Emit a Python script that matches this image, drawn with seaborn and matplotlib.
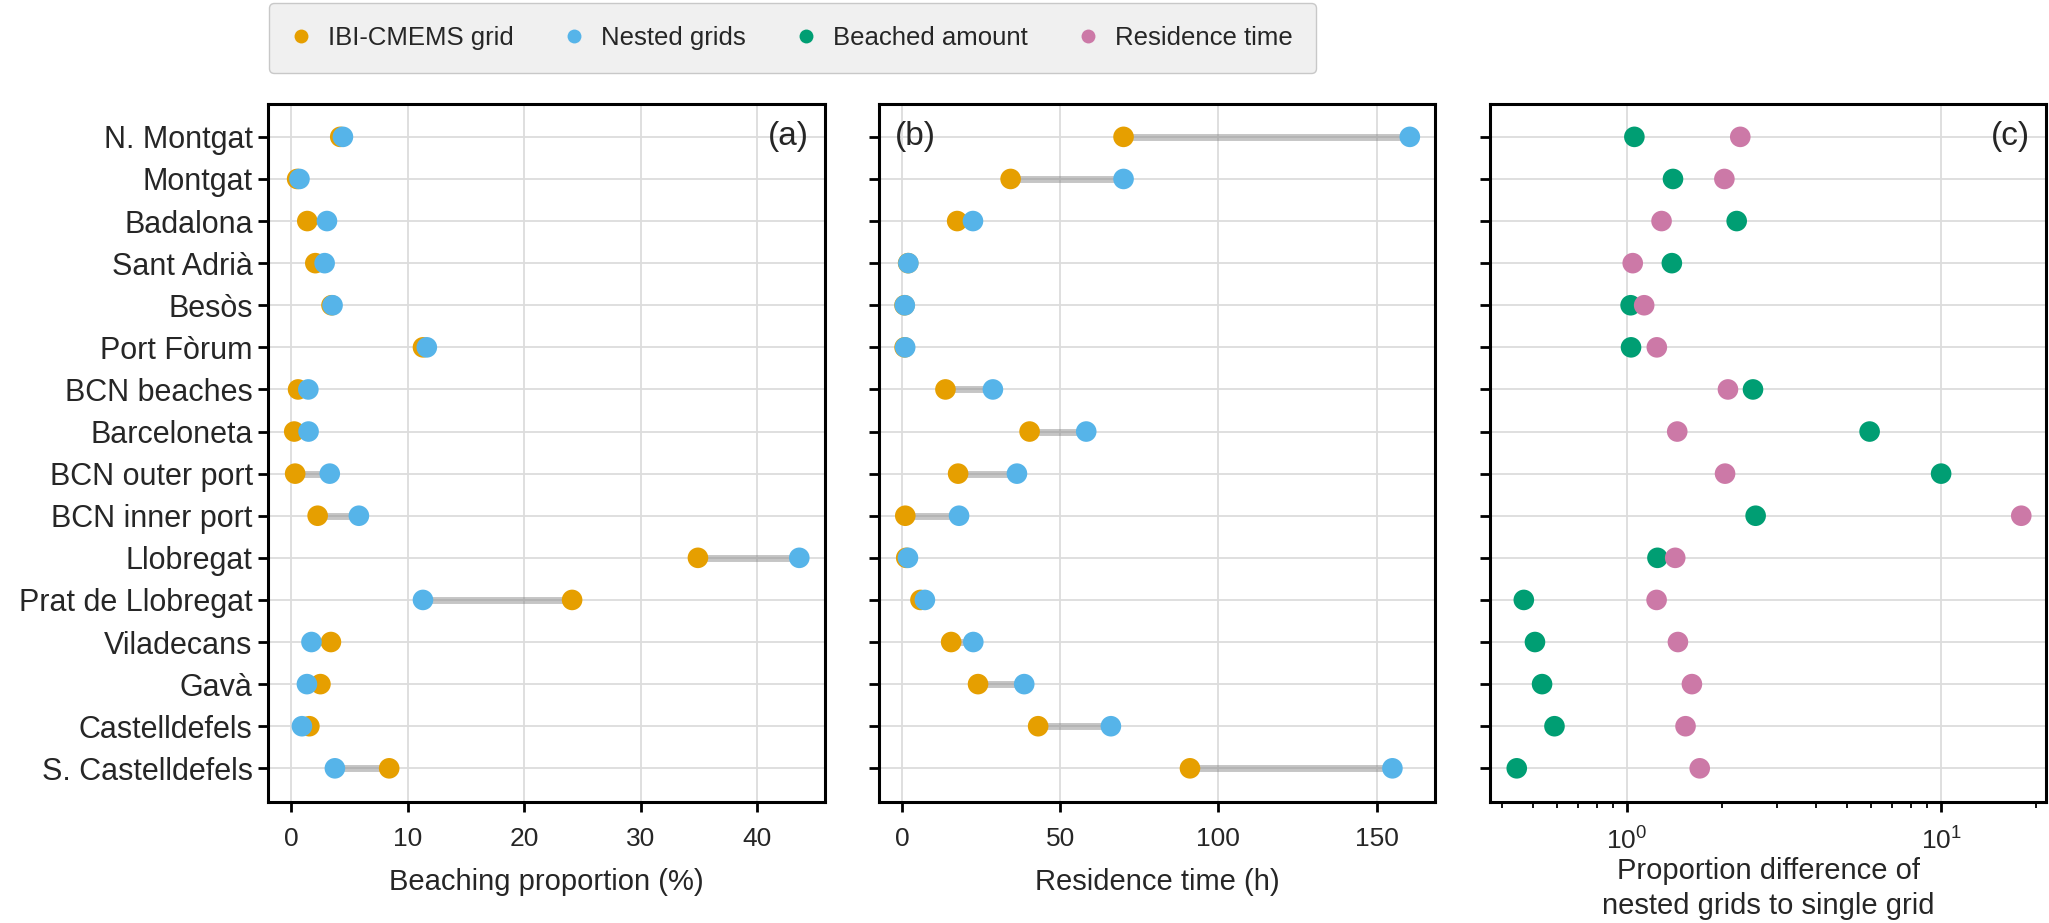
import numpy as np
import pandas as pd
import matplotlib
matplotlib.use('Agg')
import matplotlib.pyplot as plt
from matplotlib.lines import Line2D
from matplotlib.ticker import LogLocator, NullFormatter
import seaborn as sns

# Data
sites = ["N. Montgat", "Montgat", "Badalona", "Sant Adrià", "Besòs", "Port Fòrum",
         "BCN beaches", "Barceloneta", "BCN outer port", "BCN inner port", "Llobregat",
         "Prat de Llobregat", "Viladecans", "Gavà", "Castelldefels", "S. Castelldefels"]

beach_ibi = [4.2, 0.5, 1.37, 2.06, 3.45, 11.3, 0.58, 0.25, 0.33, 2.26, 34.9, 24.1, 3.4, 2.5, 1.55, 8.4]
beach_nested = [4.43, 0.7, 3.06, 2.86, 3.54, 11.63, 1.46, 1.48, 3.3, 5.8, 43.6, 11.3, 1.73, 1.34, 0.91, 3.74]
res_ibi = [70.0, 34.3, 17.4, 1.9, 0.75, 0.78, 13.7, 40.3, 17.7, 1.0, 1.3, 5.8, 15.5, 24.0, 43.0, 91.0]
res_nested = [160.5, 70.0, 22.4, 1.98, 0.85, 0.97, 28.7, 58.2, 36.3, 18.0, 1.85, 7.2, 22.5, 38.6, 66.0, 155.0]

colors = {"IBI-CMEMS grid": "#E69F00", "Nested grids": "#56B4E9",
          "Beached amount": "#009E73", "Residence time": "#CC79A7"}

sns.set_theme(style="whitegrid")
plt.rcParams['font.family'] = ['Liberation Sans', 'DejaVu Sans']
plt.rcParams['mathtext.fontset'] = 'custom'
plt.rcParams['mathtext.rm'] = 'Liberation Sans'
plt.rcParams['mathtext.it'] = 'Liberation Sans:italic'

df = pd.DataFrame({"site": sites, "beach_ibi": beach_ibi, "beach_nested": beach_nested,
                   "res_ibi": res_ibi, "res_nested": res_nested})
df["pos"] = np.arange(len(sites))
df["ratio_beach"] = df.beach_nested / df.beach_ibi
df["ratio_res"] = df.res_nested / df.res_ibi

fig = plt.figure(figsize=(20.49, 9.23), dpi=100)
bottom, height = 0.1311, 0.7562
ax_a = fig.add_axes([0.1308, bottom, 0.2718, height])
ax_b = fig.add_axes([0.4290, bottom, 0.2714, height])
ax_c = fig.add_axes([0.7272, bottom, 0.2714, height])

def dumbbell(ax, col_ibi, col_nested):
    ax.hlines(df.pos, df[col_ibi], df[col_nested], color='gray', lw=5, alpha=0.45, zorder=2)
    long = df.melt(id_vars="pos", value_vars=[col_ibi, col_nested], var_name="grid", value_name="val")
    long["grid"] = long["grid"].map({col_ibi: "IBI-CMEMS grid", col_nested: "Nested grids"})
    sns.scatterplot(data=long, x="val", y="pos", hue="grid", palette=colors, s=220,
                    edgecolor='none', legend=False, ax=ax, zorder=3)

dumbbell(ax_a, "beach_ibi", "beach_nested")
dumbbell(ax_b, "res_ibi", "res_nested")

long_c = df.melt(id_vars="pos", value_vars=["ratio_beach", "ratio_res"], var_name="kind", value_name="val")
long_c["kind"] = long_c["kind"].map({"ratio_beach": "Beached amount", "ratio_res": "Residence time"})
sns.scatterplot(data=long_c, x="val", y="pos", hue="kind", palette=colors, s=220,
                edgecolor='none', legend=False, ax=ax_c, zorder=3)
ax_c.set_xscale('log')
ax_c.xaxis.set_minor_locator(LogLocator(base=10, subs=np.arange(2, 10)))
ax_c.xaxis.set_minor_formatter(NullFormatter())

ax_a.set_xlim(-2.0, 45.8)
ax_b.set_xlim(-7.3, 168.5)
ax_c.set_xlim(0.366, 21.6)
ax_a.set_xlabel("Beaching proportion (%)", fontsize=21, labelpad=12)
ax_b.set_xlabel("Residence time (h)", fontsize=21, labelpad=12)
ax_c.set_xlabel("Proportion difference of\nnested grids to single grid", fontsize=21,
                labelpad=2, linespacing=1.3)

for ax, tag, tx, ha in [(ax_a, "(a)", 0.971, 'right'), (ax_b, "(b)", 0.029, 'left'), (ax_c, "(c)", 0.971, 'right')]:
    ax.set_ylim(15.8, -0.78)
    ax.set_yticks(df.pos)
    ax.set_yticklabels(sites if ax is ax_a else [])
    ax.set_ylabel("")
    ax.grid(True, which='major', color='#dcdcdc', lw=1.3)
    ax.grid(False, which='minor')
    ax.set_axisbelow(True)
    for s in ax.spines.values():
        s.set_color('black')
        s.set_linewidth(2.2)
    ax.tick_params(axis='both', which='major', direction='out', length=7, width=2,
                   color='black', left=True, bottom=True)
    ax.tick_params(axis='x', which='minor', direction='out', length=4.5, width=1.3,
                   color='black', bottom=True)
    ax.tick_params(axis='y', labelsize=22, pad=4)
    ax.tick_params(axis='x', labelsize=19, pad=11)
    ax.text(tx, 0.954, tag, transform=ax.transAxes, ha=ha, va='center', fontsize=24)

handles = [Line2D([], [], ls='', marker='o', markersize=10, markerfacecolor=c, markeredgecolor='none')
           for c in colors.values()]
fig.legend(handles, list(colors.keys()), loc='upper left', bbox_to_anchor=(0.130, 1.0),
           ncol=4, fontsize=18.5, frameon=True, facecolor='#f0f0f0', edgecolor='#c8c8c8',
           framealpha=1, borderpad=0.9, borderaxespad=0.1, handlelength=0.7,
           columnspacing=2.0, handletextpad=0.7, fancybox=True)

fig.savefig('out.png', dpi=100)
